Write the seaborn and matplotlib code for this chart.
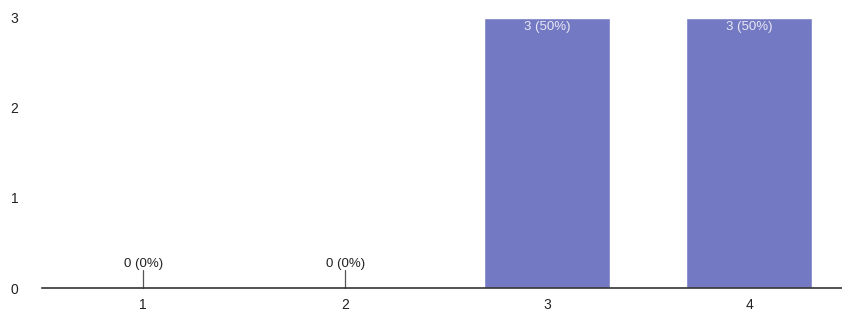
import matplotlib
matplotlib.use('Agg')
import matplotlib.pyplot as plt
import seaborn as sns
import pandas as pd

# data
categories = ['1', '2', '3', '4']
counts = [0, 0, 3, 3]
labels = ['0 (0%)', '0 (0%)', '3 (50%)', '3 (50%)']
yticks = [0, 1, 2, 3]

df = pd.DataFrame({'cat': categories, 'count': counts})

sns.set_style('white')
plt.rcParams['font.family'] = ['Liberation Sans', 'DejaVu Sans']

fig = plt.figure(figsize=(8.42, 3.2), dpi=100)
ax = fig.add_axes([0.05, 0.1, 0.95, 0.844])

sns.barplot(data=df, x='cat', y='count', color='#7479c3', saturation=1,
            width=0.62, ax=ax)

ax.set_xlim(-0.5, 3.46)
ax.set_ylim(0, 3)
ax.set_yticks(yticks)
ax.set_xlabel('')
ax.set_ylabel('')
for s in ['top', 'right', 'left']:
    ax.spines[s].set_visible(False)
ax.spines['bottom'].set_color('#333333')
ax.spines['bottom'].set_linewidth(1.2)
ax.tick_params(axis='both', length=0, labelsize=10, colors='#222222')
ax.tick_params(axis='y', pad=17)
ax.tick_params(axis='x', pad=7)

#value labels
for i, (c, lab) in enumerate(zip(counts, labels)):
    if c == 0:
        ax.plot([i, i], [0, 0.2], color='#555555', lw=0.9, clip_on=False)
        ax.text(i, 0.2, lab, ha='center', va='bottom', fontsize=9.5, color='#222222')
    else:
        ax.text(i, c - 0.03, lab, ha='center', va='top', fontsize=9.5, color='#e8e8f4')

fig.savefig('out.png', dpi=100)
